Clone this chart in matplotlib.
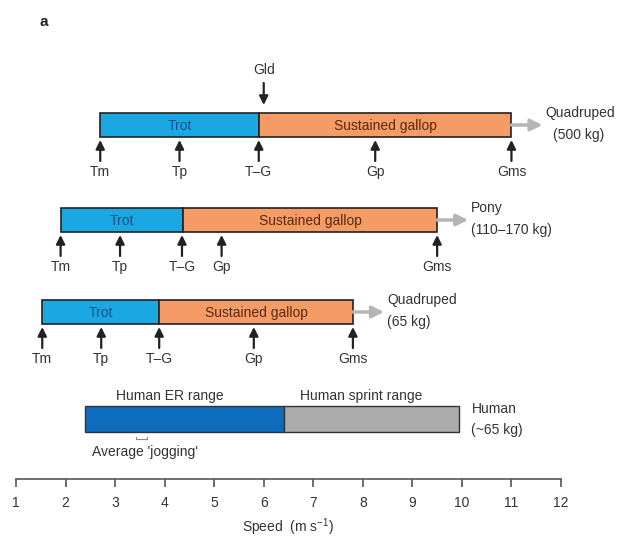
import matplotlib
matplotlib.use("Agg")
import matplotlib.pyplot as plt
from matplotlib.patches import Rectangle

plt.rcParams['font.family'] = ['Liberation Sans', 'DejaVu Sans']
plt.rcParams['mathtext.fontset'] = 'custom'
plt.rcParams['mathtext.rm'] = 'Liberation Sans'

# gait ranges (m/s): trot start, trot->gallop, gallop max
trot_start = [2.7, 1.9, 1.53]
trot_gallop = [5.9, 4.37, 3.89]
gallop_max = [11.0, 9.5, 7.8]
animal_names = ['Quadruped', 'Pony', 'Quadruped']
animal_mass = ['(500 kg)', '(110\u2013170 kg)', '(65 kg)']

marker_labels = ['Tm', 'Tp', 'T\u2013G', 'Gp', 'Gms']
marker_speeds = [
    [2.7, 4.3, 5.9, 8.25, 11.0],
    [1.9, 3.1, 4.35, 5.15, 9.5],
    [1.53, 2.72, 3.89, 5.8, 7.8],
]
gld_speed = 6.0

human_er = [2.4, 6.4]
human_sprint = [6.4, 9.95]
jogging = [3.42, 3.65]

ticks = list(range(1, 13))

trot_col = '#1ba8e2'
gallop_col = '#f59b66'
er_col = '#0f6cbd'
sprint_col = '#ababab'
txt = '#333333'

fig = plt.figure(figsize=(6.26, 5.38), dpi=100)
# main drawing area: x in speed units, y in pixel rows
ax = fig.add_axes([16/626, 0, 545/626, 1])
ax.set_xlim(1, 12)
ax.set_ylim(538, 0)
ax.axis('off')

px = 11 / 545.0  # one pixel in speed units

bar_y = [113, 208, 300]
bar_h = 24
mass_indent = [8, 0, 0]
for i in range(3):
    y0 = bar_y[i]
    ax.add_patch(Rectangle((trot_start[i], y0), trot_gallop[i] - trot_start[i], bar_h,
                           facecolor=trot_col, edgecolor='#222222', lw=1.2, clip_on=False))
    ax.add_patch(Rectangle((trot_gallop[i], y0), gallop_max[i] - trot_gallop[i], bar_h,
                           facecolor=gallop_col, edgecolor='#222222', lw=1.2, clip_on=False))
    ax.text((trot_start[i] + trot_gallop[i]) / 2, y0 + bar_h / 2 + 1, 'Trot',
            ha='center', va='center', fontsize=10, color='#1a4f8a')
    ax.text((trot_gallop[i] + gallop_max[i]) / 2, y0 + bar_h / 2 + 1, 'Sustained gallop',
            ha='center', va='center', fontsize=10, color='#5a2a10')
    # grey arrow to the animal label
    ax.annotate('', xy=(gallop_max[i] + 31 * px, y0 + bar_h / 2),
                xytext=(gallop_max[i], y0 + bar_h / 2),
                arrowprops=dict(arrowstyle='-|>', color='#b5b5b5', lw=2.5,
                                mutation_scale=17, shrinkA=0, shrinkB=0))
    ax.text(gallop_max[i] + 34 * px, y0, animal_names[i],
            ha='left', va='center', fontsize=10, color=txt)
    ax.text(gallop_max[i] + (34 + mass_indent[i]) * px, y0 + 22, animal_mass[i],
            ha='left', va='center', fontsize=10, color=txt)
    # markers below the bar
    for s, lab in zip(marker_speeds[i], marker_labels):
        ax.annotate('', xy=(s, y0 + bar_h + 3), xytext=(s, y0 + bar_h + 24),
                    arrowprops=dict(arrowstyle='-|>', color='#222222', lw=1.6,
                                    mutation_scale=13, shrinkA=0, shrinkB=0))
        ax.text(s, y0 + bar_h + 35, lab, ha='center', va='center', fontsize=10, color=txt)

# Gld arrow above the 500 kg bar
ax.annotate('', xy=(gld_speed, bar_y[0] - 8), xytext=(gld_speed, bar_y[0] - 30),
            arrowprops=dict(arrowstyle='-|>', color='#222222', lw=1.6,
                            mutation_scale=13, shrinkA=0, shrinkB=0))
ax.text(gld_speed, bar_y[0] - 43, 'Gld', ha='center', va='center', fontsize=10, color=txt)

# human bar
hy = 406
hh = 26
ax.add_patch(Rectangle((human_er[0], hy), human_er[1] - human_er[0], hh,
                       facecolor=er_col, edgecolor='#333333', lw=1.0, clip_on=False))
ax.add_patch(Rectangle((human_sprint[0], hy), human_sprint[1] - human_sprint[0], hh,
                       facecolor=sprint_col, edgecolor='#333333', lw=1.0, clip_on=False))
ax.text((human_er[0] + human_er[1]) / 2 - 0.3, hy - 10, 'Human ER range',
        ha='center', va='center', fontsize=10, color=txt)
ax.text((human_sprint[0] + human_sprint[1]) / 2 - 0.2, hy - 10, 'Human sprint range',
        ha='center', va='center', fontsize=10, color=txt)
ax.text(human_sprint[1] + 12 * px, hy + 3, 'Human',
        ha='left', va='center', fontsize=10, color=txt)
ax.text(human_sprint[1] + 12 * px, hy + 24, '(~65 kg)',
        ha='left', va='center', fontsize=10, color=txt)
ax.plot([jogging[0], jogging[0], jogging[1], jogging[1]],
        [hy + hh + 5, hy + hh + 7, hy + hh + 7, hy + hh + 5],
        color='#888888', lw=0.8, clip_on=False)
ax.text(3.6, hy + hh + 20, "Average 'jogging'", ha='center', va='center',
        fontsize=10, color=txt)

ax.text(1.48, 22, 'a', ha='left', va='center', fontsize=11, fontweight='bold', color='#222222')

# speed axis
sax = fig.add_axes([16/626, (538 - 479) / 538, 545/626, 0.001])
sax.set_xlim(1, 12)
sax.set_xticks(ticks)
sax.set_xticklabels([str(t) for t in ticks])
sax.set_yticks([])
for side in ['left', 'right', 'top']:
    sax.spines[side].set_visible(False)
sax.spines['bottom'].set_color('#555555')
sax.spines['bottom'].set_linewidth(1.2)
sax.tick_params(axis='x', direction='out', length=6, width=1.2, color='#555555',
                labelsize=10, labelcolor=txt, pad=6)
sax.set_xlabel('Speed  (m s$^{-1}$)', fontsize=10, color=txt, labelpad=5)
sax.patch.set_visible(False)

fig.savefig('out.png', dpi=100, facecolor='white')
